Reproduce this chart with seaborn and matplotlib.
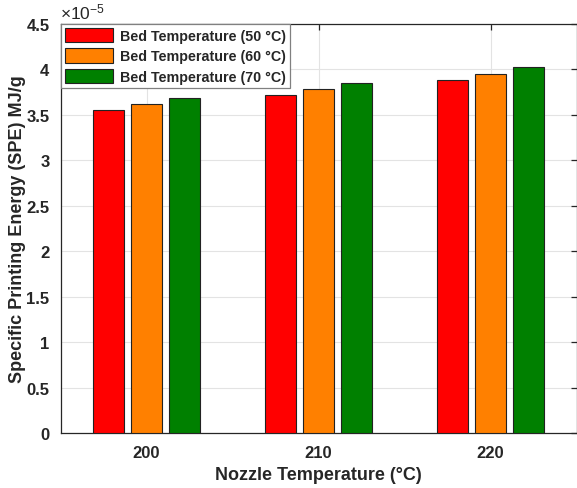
import matplotlib
matplotlib.use("Agg")
import matplotlib.pyplot as plt
import seaborn as sns
import pandas as pd
from matplotlib.ticker import MultipleLocator, FuncFormatter

# ---- data ----
nozzle_temps = ["200", "210", "220"]
bed_labels = ["Bed Temperature (50 °C)", "Bed Temperature (60 °C)", "Bed Temperature (70 °C)"]
spe_bed50 = [3.55e-5, 3.72e-5, 3.885e-5]
spe_bed60 = [3.62e-5, 3.785e-5, 3.95e-5]
spe_bed70 = [3.685e-5, 3.85e-5, 4.02e-5]
bar_colors = ["#FF0000", "#FF8000", "#008000"]

rows = []
for lab, vals in zip(bed_labels, [spe_bed50, spe_bed60, spe_bed70]):
    for nt, v in zip(nozzle_temps, vals):
        rows.append({"Nozzle": nt, "Bed": lab, "SPE": v})
df = pd.DataFrame(rows)

sns.set_style("white")
plt.rcParams["font.family"] = ["Liberation Sans", "DejaVu Sans"]
plt.rcParams["font.weight"] = "bold"
plt.rcParams["mathtext.fontset"] = "custom"
plt.rcParams["mathtext.rm"] = "Liberation Sans"
plt.rcParams["mathtext.it"] = "Liberation Sans:italic"
plt.rcParams["mathtext.bf"] = "Liberation Sans:bold"

fig = plt.figure(figsize=(5.77, 4.89), dpi=100)
ax = fig.add_axes([60.5 / 577, 55 / 489, (576.5 - 60.5) / 577, (434 - 24.7) / 489])

sns.barplot(data=df, x="Nozzle", y="SPE", hue="Bed", order=nozzle_temps,
            hue_order=bed_labels, palette=bar_colors, saturation=1, width=0.67, gap=0.19,
            edgecolor="#222222", linewidth=0.8, errorbar=None, ax=ax, zorder=3)

ax.set_xlim(-0.5, 2.5)
ax.set_ylim(0, 4.5e-5)
ax.yaxis.set_major_locator(MultipleLocator(0.5e-5))
ax.yaxis.set_major_formatter(FuncFormatter(lambda v, p: f"{v / 1e-5:g}"))

ax.grid(True, color="#e3e3e3", linewidth=0.8, zorder=0)
ax.set_axisbelow(True)
for s in ax.spines.values():
    s.set_visible(True)
    s.set_color("#262626")
    s.set_linewidth(0.9)

ax.tick_params(axis="both", direction="in", length=4, width=0.9, color="#262626",
               top=True, right=True, labelsize=12, labelcolor="#262626")
ax.tick_params(axis="y", pad=8)
ax.tick_params(axis="x", pad=9)
for lbl in ax.get_xticklabels() + ax.get_yticklabels():
    lbl.set_fontweight("bold")

ax.set_xlabel("Nozzle Temperature (°C)", fontsize=13, fontweight="bold", color="#262626", labelpad=4)
ax.set_ylabel("Specific Printing Energy (SPE) MJ/g", fontsize=13, fontweight="bold", color="#262626", labelpad=0)

ax.text(0.0, 1.006, r"$\mathregular{\times10^{-5}}$", transform=ax.transAxes,
        fontsize=12.5, fontweight="normal", color="#262626", ha="left", va="bottom")

leg = ax.legend(loc="upper left", bbox_to_anchor=(0, 1), frameon=True, fancybox=False,
                edgecolor="#808080", framealpha=1, borderaxespad=0, handlelength=3.4,
                handleheight=1.15, handletextpad=0.45, labelspacing=0.38, borderpad=0.3,
                prop={"weight": "bold", "size": 10.3})
leg.get_frame().set_linewidth(0.9)

fig.savefig("out.png", dpi=100)
